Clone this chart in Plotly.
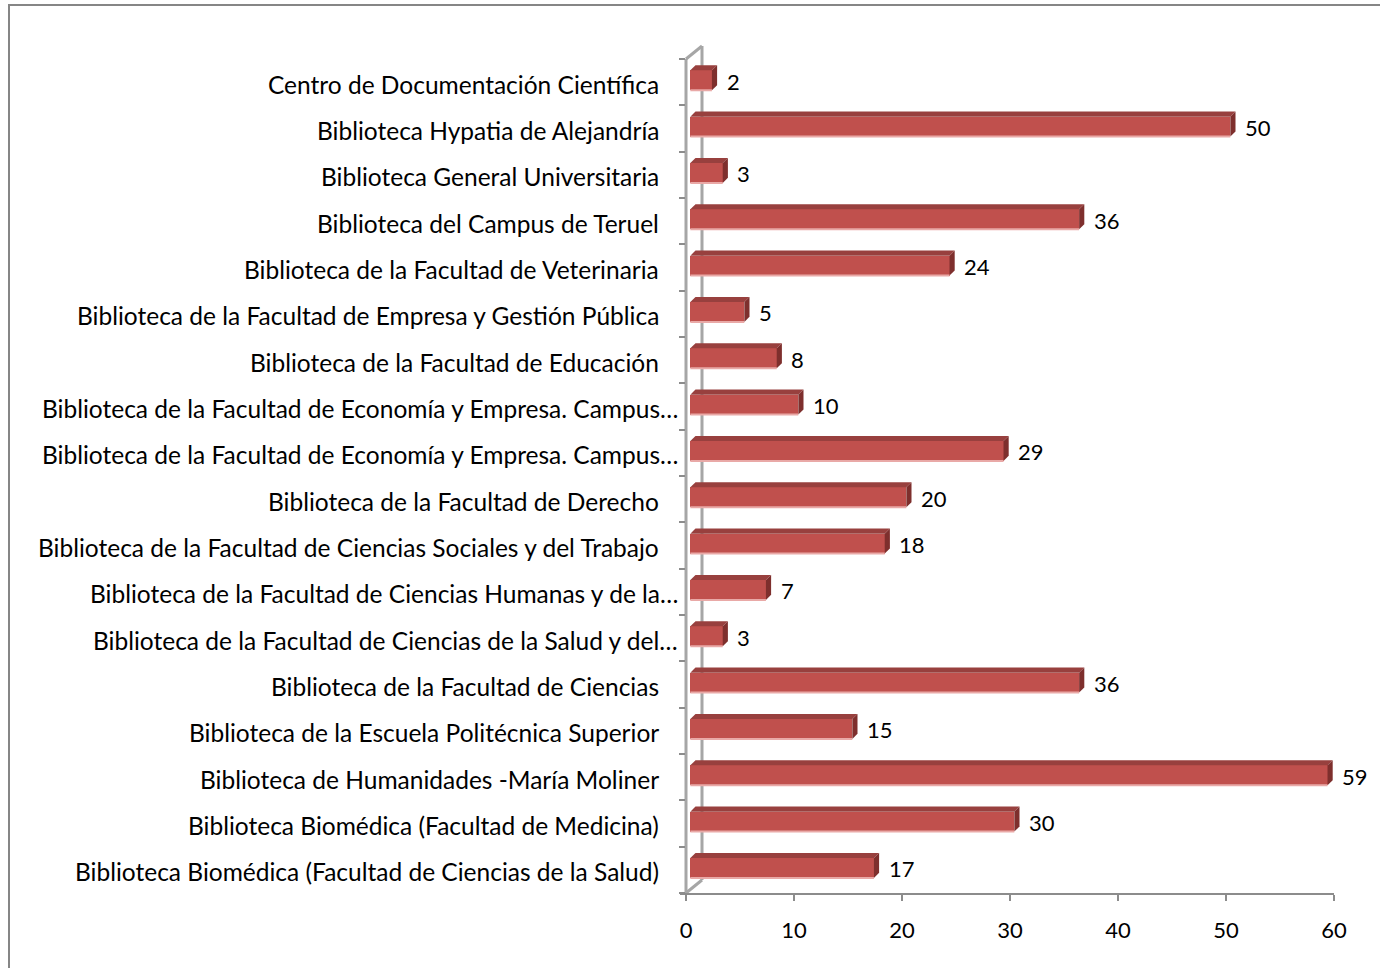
import plotly.graph_objects as go

categories = [
    "Centro de Documentación Científica",
    "Biblioteca Hypatia de Alejandría",
    "Biblioteca General Universitaria",
    "Biblioteca del Campus de Teruel",
    "Biblioteca de la Facultad de Veterinaria",
    "Biblioteca de la Facultad de Empresa y Gestión Pública",
    "Biblioteca de la Facultad de Educación",
    "Biblioteca de la Facultad de Economía y Empresa. Campus…",
    "Biblioteca de la Facultad de Economía y Empresa. Campus…",
    "Biblioteca de la Facultad de Derecho",
    "Biblioteca de la Facultad de Ciencias Sociales y del Trabajo",
    "Biblioteca de la Facultad de Ciencias Humanas y de la…",
    "Biblioteca de la Facultad de Ciencias de la Salud y del…",
    "Biblioteca de la Facultad de Ciencias",
    "Biblioteca de la Escuela Politécnica Superior",
    "Biblioteca de Humanidades -María Moliner",
    "Biblioteca Biomédica (Facultad de Medicina)",
    "Biblioteca Biomédica (Facultad de Ciencias de la Salud)",
]
values = [2, 50, 3, 36, 24, 5, 8, 10, 29, 20, 18, 7, 3, 36, 15, 59, 30, 17]
x_ticks = [0, 10, 20, 30, 40, 50, 60]

FONT = "Lato, Carlito, Calibri, sans-serif"
n = len(categories)
pos = [n - 1 - i for i in range(n)]  # top item highest
XMAX = 60

# 3D look parameters (in data units)
base = 0.4
half_h = 0.215
shift = 0.04
dx = 0.48
dy = 0.11

fig = go.Figure()

for v, p in zip(values, pos):
    x0 = base
    x1 = base + v
    yb = p + shift - half_h
    yt = p + shift + half_h
    # top face
    fig.add_trace(go.Scatter(
        x=[x0, x1, x1 + dx, x0 + dx, x0], y=[yt, yt, yt + dy, yt + dy, yt],
        fill="toself", fillcolor="#98403E", line=dict(width=0), mode="lines",
        hoverinfo="skip", showlegend=False, cliponaxis=False))
    # right face
    fig.add_trace(go.Scatter(
        x=[x1, x1 + dx, x1 + dx, x1, x1], y=[yb, yb + dy, yt + dy, yt, yb],
        fill="toself", fillcolor="#7E2F2D", line=dict(width=0), mode="lines",
        hoverinfo="skip", showlegend=False, cliponaxis=False))

# front faces
fig.add_trace(go.Bar(
    orientation="h", y=pos, x=values, base=base, width=2 * half_h,
    offset=-half_h + shift,
    marker=dict(color="#C0504D", line=dict(width=0)),
    showlegend=False, hoverinfo="skip"))

# light bottom edge
for v, p in zip(values, pos):
    fig.add_trace(go.Scatter(
        x=[base, base + v], y=[p + shift - half_h, p + shift - half_h],
        mode="lines", line=dict(color="#E9A9A7", width=2),
        hoverinfo="skip", showlegend=False))

annotations = []
# data labels (x in paper fraction of the 0..XMAX axis so labels past the range still show)
for v, p in zip(values, pos):
    annotations.append(dict(
        x=(v + base + dx + 0.97) / XMAX, xref="paper", y=p, yref="y", text=str(v),
        showarrow=False, xanchor="left", yanchor="middle", xshift=-3, yshift=1,
        font=dict(family=FONT, size=22, color="#000000")))

# category labels (truncated ones overhang further right, as in the original)
for c, p in zip(categories, pos):
    annotations.append(dict(
        x=0, xref="paper", y=p, yref="y", text=c, showarrow=False,
        xanchor="right", yanchor="middle",
        xshift=-6 if c.endswith("…") else -25, yshift=-2,
        font=dict(family=FONT, size=24.5, color="#000000")))

W, H = 1380, 968
L, R, T, B = 686, 46, 59, 75
pw = W - L - R
ph = H - T - B
wx = 16 / pw
wy = 13 / ph
wall = "#A6A6A6"

shapes = [
    # outer frame
    dict(type="rect", xref="paper", yref="paper",
         x0=(9 - L) / pw, x1=1.2, y0=-0.2, y1=(H - B - 5) / ph,
         line=dict(color="#868686", width=2), fillcolor="rgba(0,0,0,0)", layer="below"),
    # wall back vertical
    dict(type="line", xref="paper", yref="paper", x0=wx, x1=wx, y0=wy, y1=1 + wy,
         line=dict(color=wall, width=3), layer="below"),
    # wall top diagonal
    dict(type="line", xref="paper", yref="paper", x0=0, x1=wx, y0=1, y1=1 + wy,
         line=dict(color=wall, width=3), layer="below"),
    # wall bottom diagonal
    dict(type="line", xref="paper", yref="paper", x0=0, x1=wx, y0=0, y1=wy,
         line=dict(color=wall, width=3), layer="below"),
    # wall front vertical
    dict(type="line", xref="paper", yref="paper", x0=0, x1=0, y0=-2 / ph, y1=1,
         line=dict(color=wall, width=3), layer="below"),
    # x-axis line extension to the left
    dict(type="line", xref="paper", yref="paper", x0=-6 / pw, x1=0, y0=-1 / ph, y1=-1 / ph,
         line=dict(color="#8C8C8C", width=2), layer="below"),
]

fig.update_layout(
    width=W, height=H,
    margin=dict(l=L, r=R, t=T, b=B, pad=0),
    paper_bgcolor="white", plot_bgcolor="white",
    bargap=0, shapes=shapes, annotations=annotations,
    font=dict(family=FONT, size=22, color="#000000"),
    xaxis=dict(range=[0, XMAX], tickvals=x_ticks, ticktext=[str(t) for t in x_ticks],
               showgrid=False, zeroline=False, showline=True, linecolor="#8C8C8C",
               linewidth=2, ticks="outside", ticklen=6, tickcolor="#8C8C8C",
               tickwidth=2, tickfont=dict(family=FONT, size=22, color="#000000"),
               ticklabelstandoff=11, anchor="y", position=0),
    yaxis=dict(range=[-0.5, n - 0.5], tickvals=pos, showticklabels=False,
               showgrid=False, zeroline=False, showline=False, ticks="",
               minor=dict(tickvals=[k - 0.5 for k in range(n + 1)], ticks="outside",
                          ticklen=6, tickcolor="#8C8C8C", tickwidth=2)),
)

fig.write_html("out.html", config={"displayModeBar": False},
               post_script="document.body.style.margin='0';")
